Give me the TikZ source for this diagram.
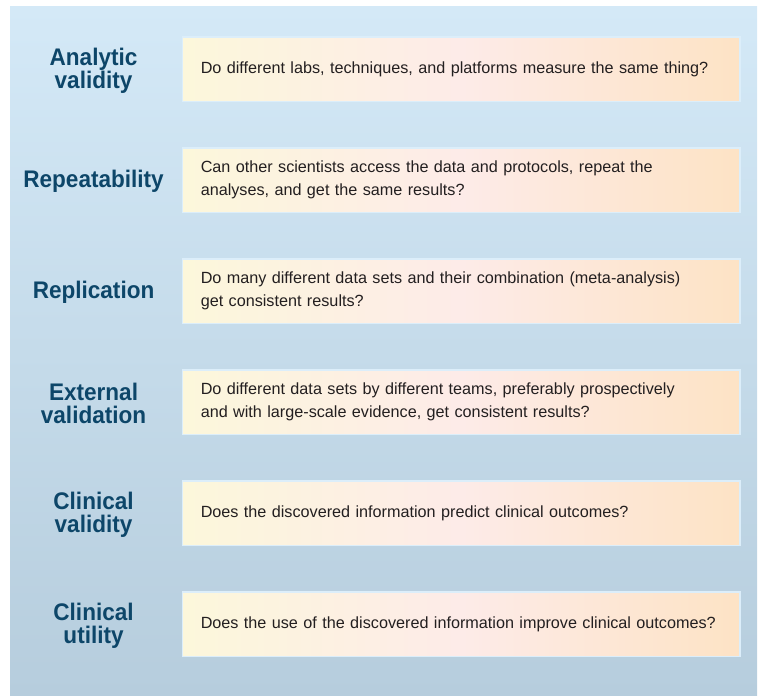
\documentclass[tikz,border=0pt]{standalone}
\usepackage{fontspec}
\setmainfont{Liberation Sans}
\newfontfamily\stagefont[FakeStretch=0.94]{Liberation Sans}
\usetikzlibrary{positioning}
\definecolor{panelTop}{HTML}{D4E9F7}
\definecolor{panelBottom}{HTML}{B6CDDD}
\definecolor{qframe}{HTML}{DCEEFA}
\definecolor{qleft}{HTML}{FCF7DB}
\definecolor{qmid}{HTML}{FDEBE8}
\definecolor{qright}{HTML}{FDE3C5}
\definecolor{qtext}{HTML}{231F20}
\definecolor{stagecol}{HTML}{0D4669}

\begin{document}
\begin{tikzpicture}[x=1pt, y=1pt,
  font=\fontsize{16.2}{22.5}\selectfont, node distance=45pt,
  question/.style={draw=qframe, line width=1.5pt, left color=qleft,
                   right color=qright, middle color=qmid,
                   minimum width=557.5pt, minimum height=64.5pt,
                   text width=521pt, align=left, inner xsep=18pt,
                   inner ysep=0pt, text=qtext},
  stage/.style={text width=162pt, align=center, inner sep=0pt,
                text=stagecol, yshift=-1.5pt,
                font=\stagefont\fontsize{24}{23}\selectfont\bfseries}]
\useasboundingbox (0,0) rectangle (758,-696);
% panel behind the rows
\shade[top color=panelTop, bottom color=panelBottom] (10,-6) rectangle (757,-696);
% questions
\node[question, anchor=north west] (q1) at (181.75,-36)
  {Do different labs, techniques, and platforms measure the same thing?};
\node[question, below=of q1] (q2)
  {Can other scientists access the data and protocols, repeat the\\
   analyses, and get the same results?};
\node[question, below=of q2] (q3)
  {Do many different data sets and their combination (meta-analysis)\\
   get consistent results?};
\node[question, below=of q3] (q4)
  {Do different data sets by different teams, preferably prospectively\\
   and with large-scale evidence, get consistent results?};
\node[question, below=of q4] (q5)
  {Does the discovered information predict clinical outcomes?};
\node[question, below=of q5] (q6)
  {Does the use of the discovered information improve clinical outcomes?};
% stage labels
\node[stage, left=7pt of q1] (analytic) {Analytic\\validity};
\node[stage, left=7pt of q2] (repeat) {Repeatability};
\node[stage, left=7pt of q3] (replic) {Replication};
\node[stage, left=7pt of q4] (external) {External\\validation};
\node[stage, left=7pt of q5] (clinval) {Clinical\\validity};
\node[stage, left=7pt of q6] (clinutil) {Clinical\\utility};
\end{tikzpicture}
\end{document}
